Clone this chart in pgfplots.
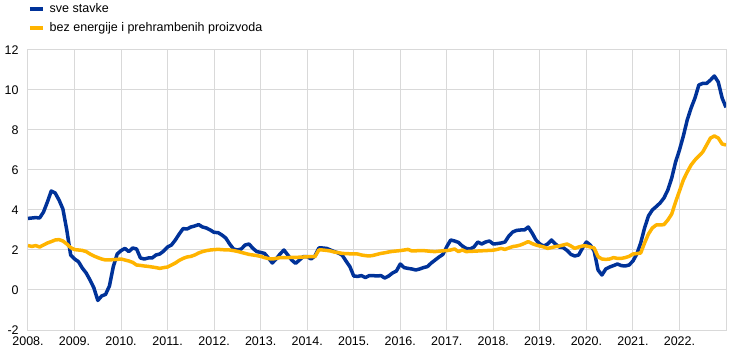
\documentclass[border=0pt]{standalone}
\usepackage{pgfplots}
\usepackage{pgfplotstable}
\pgfplotsset{compat=1.18}
\usepackage{fontspec}
\setmainfont{Liberation Sans}
\definecolor{ecbblue}{HTML}{003299}
\definecolor{ecbyellow}{HTML}{FFB400}
\definecolor{gridgray}{HTML}{D9D9D9}
\pgfplotstableread{
m blue yellow
0 3.58 2.22
1 3.60 2.18
2 3.62 2.22
3 3.60 2.15
4 3.90 2.25
5 4.40 2.35
6 4.95 2.42
7 4.85 2.50
8 4.50 2.52
9 4.05 2.45
10 3.00 2.30
11 1.75 2.12
12 1.55 2.02
13 1.42 2.00
14 1.10 1.98
15 0.85 1.92
16 0.50 1.80
17 0.10 1.70
18 -0.52 1.62
19 -0.30 1.55
20 -0.22 1.50
21 0.20 1.50
22 1.17 1.52
23 1.80 1.53
24 1.97 1.55
25 2.08 1.50
26 1.92 1.45
27 2.10 1.38
28 2.05 1.25
29 1.60 1.23
30 1.55 1.20
31 1.60 1.18
32 1.60 1.15
33 1.75 1.12
34 1.80 1.08
35 1.95 1.12
36 2.15 1.15
37 2.25 1.25
38 2.50 1.35
39 2.80 1.48
40 3.07 1.58
41 3.05 1.65
42 3.15 1.68
43 3.20 1.75
44 3.27 1.85
45 3.15 1.92
46 3.10 1.97
47 3.00 2.00
48 2.88 2.02
49 2.87 2.03
50 2.75 2.02
51 2.60 2.00
52 2.30 2.00
53 2.05 1.97
54 2.00 1.93
55 2.05 1.88
56 2.25 1.83
57 2.30 1.78
58 2.08 1.75
59 1.92 1.72
60 1.88 1.68
61 1.83 1.62
62 1.60 1.57
63 1.35 1.55
64 1.55 1.58
65 1.80 1.62
66 2.00 1.62
67 1.75 1.62
68 1.50 1.63
69 1.33 1.63
70 1.50 1.64
71 1.67 1.65
72 1.67 1.66
73 1.55 1.67
74 1.70 1.67
75 2.10 2.00
76 2.10 2.00
77 2.08 1.98
78 2.00 1.95
79 1.92 1.90
80 1.85 1.87
81 1.75 1.83
82 1.45 1.82
83 1.17 1.81
84 0.70 1.80
85 0.68 1.80
86 0.72 1.75
87 0.62 1.72
88 0.72 1.70
89 0.72 1.73
90 0.70 1.78
91 0.72 1.83
92 0.60 1.86
93 0.70 1.90
94 0.85 1.93
95 0.95 1.95
96 1.30 1.97
97 1.12 2.00
98 1.08 2.03
99 1.05 1.95
100 1.00 1.96
101 1.05 1.97
102 1.12 1.97
103 1.17 1.95
104 1.35 1.93
105 1.50 1.92
106 1.65 1.94
107 1.78 1.96
108 2.17 1.97
109 2.50 2.00
110 2.45 2.05
111 2.38 1.92
112 2.20 2.00
113 2.08 1.92
114 2.05 1.93
115 2.15 1.94
116 2.40 1.95
117 2.30 1.96
118 2.40 1.97
119 2.45 1.98
120 2.30 1.99
121 2.32 2.03
122 2.35 2.08
123 2.40 2.03
124 2.70 2.10
125 2.90 2.17
126 2.98 2.20
127 3.00 2.25
128 3.00 2.33
129 3.15 2.42
130 2.85 2.32
131 2.50 2.25
132 2.30 2.20
133 2.20 2.15
134 2.30 2.08
135 2.50 2.12
136 2.30 2.17
137 2.15 2.20
138 2.12 2.25
139 1.98 2.30
140 1.78 2.20
141 1.70 2.08
142 1.75 2.15
143 2.10 2.20
144 2.40 2.20
145 2.25 2.15
146 1.95 2.10
147 1.00 1.67
148 0.75 1.55
149 1.05 1.53
150 1.15 1.55
151 1.22 1.62
152 1.30 1.58
153 1.22 1.58
154 1.20 1.62
155 1.25 1.68
156 1.45 1.80
157 1.80 1.82
158 2.35 1.85
159 3.10 2.35
160 3.70 2.80
161 4.00 3.10
162 4.17 3.25
163 4.35 3.25
164 4.60 3.27
165 5.00 3.50
166 5.60 3.80
167 6.40 4.40
168 7.00 4.95
169 7.70 5.50
170 8.50 5.90
171 9.10 6.25
172 9.60 6.50
173 10.25 6.70
174 10.33 6.90
175 10.33 7.25
176 10.50 7.60
177 10.70 7.70
178 10.40 7.60
179 9.60 7.30
180 9.13 7.25
}\datatable
\begin{document}
\fontsize{12.5bp}{15bp}\selectfont
\begin{tikzpicture}
\path[use as bounding box] (0,0) rectangle (743bp,359bp);
\begin{axis}[
  at={(28bp,29bp)}, anchor=south west,
  width=698bp, height=280bp, scale only axis,
  xmin=0, xmax=180, ymin=-2, ymax=12,
  xtick={0,12,...,168},
  xticklabels={2008.,2009.,2010.,2011.,2012.,2013.,2014.,2015.,2016.,2017.,2018.,2019.,2020.,2021.,2022.},
  ytick={-2,0,2,4,6,8,10,12},
  yticklabels={-2,0,2,4,6,8,10,12},
  major tick length=0pt,
  grid=major,
  major grid style={draw=gridgray, line width=1bp},
  axis line style={draw=gridgray, line width=1bp},
  tick label style={font=\fontsize{12.5bp}{15bp}\selectfont, text=black},
  yticklabel style={anchor=east, xshift=-5bp},
  xticklabel style={anchor=north, yshift=-2bp},
  legend style={at={(0,1.172)}, anchor=north west, draw=none, fill=none,
    inner sep=0pt, outer sep=0pt, row sep=3.5bp,
    font=\fontsize{12.5bp}{15bp}\selectfont, cells={anchor=west}},
  legend cell align=left,
  legend image code/.code={\draw[line width=4bp,#1] (-1bp,0bp) -- (12bp,0bp); \path (15bp,0bp);},
]
\addplot[ecbblue, line width=3.5bp, line join=round] table[x=m, y=blue] {\datatable};
\addlegendentry{sve stavke}
\addplot[ecbyellow, line width=3.5bp, line join=round] table[x=m, y=yellow] {\datatable};
\addlegendentry{bez energije i prehrambenih proizvoda}
\end{axis}
\end{tikzpicture}
\end{document}
